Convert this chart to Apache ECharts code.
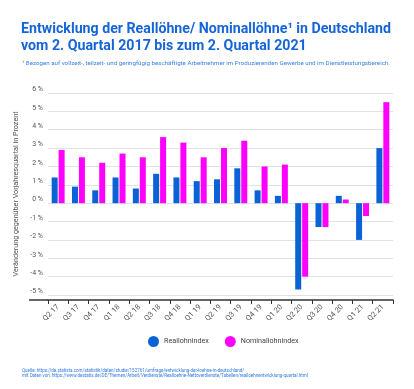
<!DOCTYPE html>
<html><head><meta charset="utf-8">
<script src="https://cdn.jsdelivr.net/npm/echarts@6/dist/echarts.min.js"></script>
<style>html,body{margin:0;padding:0;background:#fff}#c{width:414px;height:389px}</style>
</head><body><div id="c"></div>
<script>
const categories = ['Q2 17','Q3 17','Q4 17','Q1 18','Q2 18','Q3 18','Q4 18','Q1 19','Q2 19','Q3 19','Q4 19','Q1 20','Q2 20','Q3 20','Q4 20','Q1 21','Q2 21'];
const reallohn = [1.4,0.9,0.7,1.4,0.8,1.6,1.4,1.2,1.3,1.9,0.7,0.4,-4.7,-1.3,0.4,-2.0,3.0];
const nominallohn = [2.9,2.5,2.2,2.7,2.5,3.6,3.3,2.5,3.0,3.4,2.0,2.1,-4.0,-1.3,0.2,-0.7,5.5];
const yTicks = [-5,-4,-3,-2,-1,0,1,2,3,4,5,6];
const seriesNames = ['Reallohnindex','Nominallohnindex'];
const colors = ['#0a62d6','#ff00ff'];

const chart = echarts.init(document.getElementById('c'));
const F = 'Roboto, "Noto Sans", sans-serif';
chart.setOption({
  animation:false,
  textStyle:{fontFamily:F},
  title:[
    {text:'Entwicklung der Reallöhne/ Nominallöhne¹ in Deutschland\nvom 2. Quartal 2017 bis zum 2. Quartal 2021',
     left:16, top:16, textStyle:{fontFamily:F,fontSize:14.2,fontWeight:'bold',color:'#1565d8',lineHeight:17}},
    {text:'¹ Bezogen auf vollzeit-, teilzeit- und geringfügig beschäftigte Arbeitnehmer im Produzierenden Gewerbe und im Dienstleistungsbereich.',
     left:17, top:55, textStyle:{fontFamily:F,fontSize:6.2,fontWeight:'normal',color:'#3b82e0'}},
    {text:'Quelle: https://de.statista.com/statistik/daten/studie/152761/umfrage/entwicklung-der-loehne-in-deutschland/\nmit Daten von: https://www.destatis.de/DE/Themen/Arbeit/Verdienste/Realloehne-Nettoverdienste/Tabellen/realloehnentwicklung-quartal.html',
     left:17, top:363, textStyle:{fontFamily:F,fontSize:4.5,fontWeight:'normal',color:'#2f7be0',lineHeight:5.5}}
  ],
  graphic:[{type:'line', shape:{x1:29,y1:300,x2:48,y2:300}, style:{stroke:'#333',lineWidth:1.5}}],
  legend:{
    data:seriesNames, left:143, top:331, icon:'circle', itemWidth:11, itemHeight:11, itemGap:16, itemTextGap:5,
    textStyle:{fontFamily:F,fontSize:7.2,color:'#444',fontWeight:'normal'}
  },
  grid:{left:48, right:21, top:93, bottom:94, containLabel:false},
  xAxis:{
    type:'category', data:categories, offset:5,
    axisLine:{onZero:false, lineStyle:{color:'#333',width:1.5}},
    axisTick:{show:true, alignWithLabel:false, length:4, lineStyle:{color:'#333'}},
    axisLabel:{rotate:45, fontSize:7.5, color:'#555', margin:6, fontFamily:F, interval:0}
  },
  yAxis:{
    type:'value', min:-5, max:6, interval:1,
    name:'Veränderung gegenüber Vorjahresquartal in Prozent', nameLocation:'middle', nameGap:25,
    nameTextStyle:{fontSize:7.2, color:'#555', fontFamily:F},
    axisLine:{show:false}, axisTick:{show:false},
    axisLabel:{formatter:v=>v+' %', fontSize:7, color:'#555', verticalAlign:'bottom', margin:5, fontFamily:F},
    splitLine:{lineStyle:{color:'#dfe3e6',width:1}}
  },
  series:[
    {name:seriesNames[0], type:'bar', data:reallohn, barWidth:6, barGap:'16%', itemStyle:{color:colors[0]}},
    {name:seriesNames[1], type:'bar', data:nominallohn, barWidth:6, barGap:'16%', itemStyle:{color:colors[1]}}
  ]
});
</script></body></html>
